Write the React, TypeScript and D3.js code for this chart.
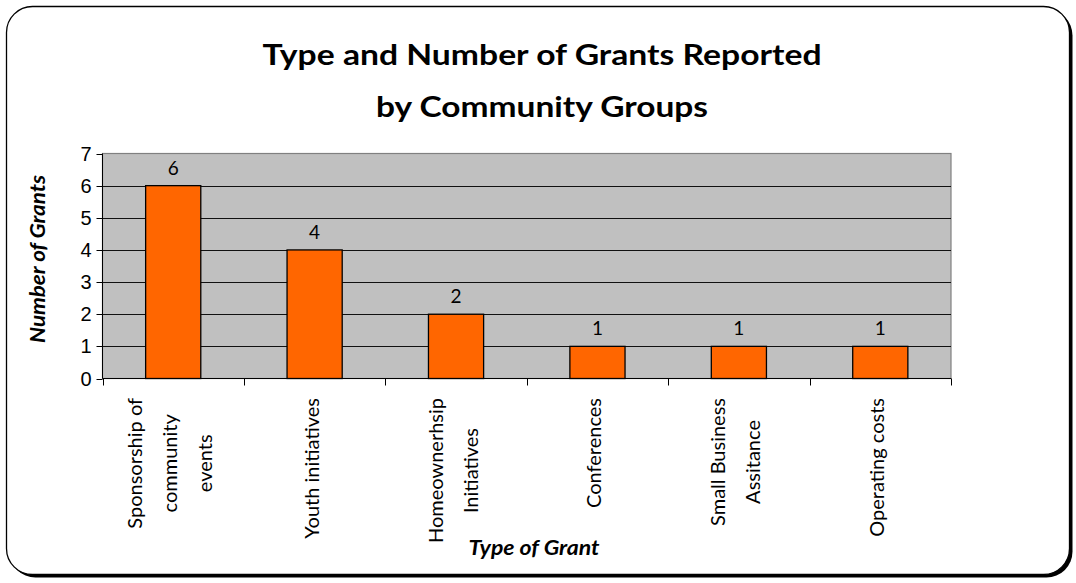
import React, { useEffect, useRef } from "react";
import * as d3 from "d3";

const categories = [
  "Sponsorship of community events",
  "Youth initiatives",
  "Homeownerhsip Initiatives",
  "Conferences",
  "Small Business Assitance",
  "Operating costs",
];
const categoryLines = [
  ["Sponsorship of", "community", "events"],
  ["Youth initiatives"],
  ["Homeownerhsip", "Initiatives"],
  ["Conferences"],
  ["Small Business", "Assitance"],
  ["Operating costs"],
];
const values = [6, 4, 2, 1, 1, 1];
const yTicks = [0, 1, 2, 3, 4, 5, 6, 7];
const titleLines = ["Type and Number of Grants Reported", "by Community Groups"];
const yAxisTitle = "Number of Grants";
const xAxisTitle = "Type of Grant";

const W = 1076;
const H = 583;
const GILL = "Lato, 'Open Sans', sans-serif";

export default function App() {
  const ref = useRef<SVGSVGElement | null>(null);

  useEffect(() => {
    const svg = d3.select(ref.current);
    svg.selectAll("*").remove();

    // outer frame with shadow
    svg.append("rect").attr("x", 9.5).attr("y", 9.5).attr("width", 1063).attr("height", 568)
      .attr("rx", 26).attr("fill", "#000");
    svg.append("rect").attr("x", 6.5).attr("y", 6.5).attr("width", 1063).attr("height", 568)
      .attr("rx", 26).attr("fill", "#fff").attr("stroke", "#000").attr("stroke-width", 1.3);

    const left = 102.5, right = 951, top = 153.5, bottom = 378.5;
    const x = d3.scaleBand<string>().domain(categories).range([left, right]).paddingInner(0.61).paddingOuter(0.305);
    const y = d3.scaleLinear().domain([0, 7]).range([bottom, top]);
    const step = (right - left) / categories.length;

    // plot area
    svg.append("rect").attr("x", left).attr("y", top).attr("width", right - left).attr("height", bottom - top)
      .attr("fill", "#c0c0c0").attr("stroke", "#808080").attr("stroke-width", 1.2);

    // gridlines
    svg.append("g").selectAll("line").data(yTicks.filter((t) => t > 0 && t < 7)).join("line")
      .attr("x1", left).attr("x2", right)
      .attr("y1", (d) => Math.round(y(d)) + 0.5).attr("y2", (d) => Math.round(y(d)) + 0.5)
      .attr("stroke", "#111").attr("stroke-width", 1);

    // bars
    svg.append("g").selectAll("rect").data(values).join("rect")
      .attr("x", (_, i) => x(categories[i])!)
      .attr("y", (d) => y(d))
      .attr("width", x.bandwidth())
      .attr("height", (d) => y(0) - y(d))
      .attr("fill", "#ff6600").attr("stroke", "#000").attr("stroke-width", 1.3);

    // data labels
    svg.append("g").selectAll("text").data(values).join("text")
      .attr("x", (_, i) => x(categories[i])! + x.bandwidth() / 2)
      .attr("y", (d) => y(d) - 11)
      .attr("text-anchor", "middle")
      .attr("font-family", GILL).attr("font-size", 19).attr("fill", "#000")
      .text((d) => String(d));

    // axes lines
    svg.append("line").attr("x1", left).attr("x2", left).attr("y1", top).attr("y2", bottom)
      .attr("stroke", "#000").attr("stroke-width", 1);
    svg.append("line").attr("x1", left).attr("x2", right).attr("y1", bottom).attr("y2", bottom)
      .attr("stroke", "#000").attr("stroke-width", 1);

    // y ticks
    const yg = svg.append("g");
    yg.selectAll("line").data(yTicks).join("line")
      .attr("x1", left - 6).attr("x2", left)
      .attr("y1", (d) => Math.round(y(d)) + 0.5).attr("y2", (d) => Math.round(y(d)) + 0.5)
      .attr("stroke", "#000");
    yg.selectAll("text").data(yTicks).join("text")
      .attr("x", left - 11).attr("y", (d) => y(d) + 7)
      .attr("text-anchor", "end")
      .attr("font-family", "'Liberation Sans', Arial, sans-serif").attr("font-size", 20)
      .text((d) => String(d));

    // x ticks at category boundaries
    svg.append("g").selectAll("line").data(d3.range(categories.length + 1)).join("line")
      .attr("x1", (i) => Math.round(left + i * step) + 0.5).attr("x2", (i) => Math.round(left + i * step) + 0.5)
      .attr("y1", bottom).attr("y2", bottom + 7)
      .attr("stroke", "#000");

    // category labels (rotated)
    const labelTop = 398;
    const lineGap = 35;
    categoryLines.forEach((lines, i) => {
      const cx = x(categories[i])! + x.bandwidth() / 2;
      const g = svg.append("g");
      const texts = lines.map((ln) =>
        g.append("text").attr("font-family", GILL).attr("font-size", 20).attr("fill", "#000")
          .attr("text-anchor", "middle").text(ln)
      );
      const maxLen = d3.max(texts, (t) => (t.node() as SVGTextElement).getComputedTextLength()) || 0;
      const cy = labelTop + maxLen / 2;
      texts.forEach((t, j) => {
        const bx = cx + (j - (lines.length - 1) / 2) * lineGap + 4;
        t.attr("transform", `translate(${bx},${cy}) rotate(-90)`);
      });
    });

    // titles
    const titleLens = [559, 332];
    titleLines.forEach((t, i) => {
      svg.append("text").attr("x", 542).attr("y", 65 + i * 52)
        .attr("text-anchor", "middle").attr("font-family", GILL).attr("font-weight", 700)
        .attr("font-size", 28).attr("textLength", titleLens[i]).attr("lengthAdjust", "spacingAndGlyphs")
        .text(t);
    });

    svg.append("text")
      .attr("transform", `translate(45,259) rotate(-90)`)
      .attr("text-anchor", "middle").attr("font-family", GILL).attr("font-weight", 700)
      .attr("font-style", "italic").attr("font-size", 20)
      .attr("textLength", 168).attr("lengthAdjust", "spacingAndGlyphs").text(yAxisTitle);

    svg.append("text").attr("x", 534).attr("y", 555)
      .attr("text-anchor", "middle").attr("font-family", GILL).attr("font-weight", 700)
      .attr("font-style", "italic").attr("font-size", 20)
      .attr("textLength", 131).attr("lengthAdjust", "spacingAndGlyphs").text(xAxisTitle);
  }, []);

  return (
    <svg ref={ref} width={W} height={H} style={{ position: "absolute", left: 0, top: 0, display: "block" }} />
  );
}
